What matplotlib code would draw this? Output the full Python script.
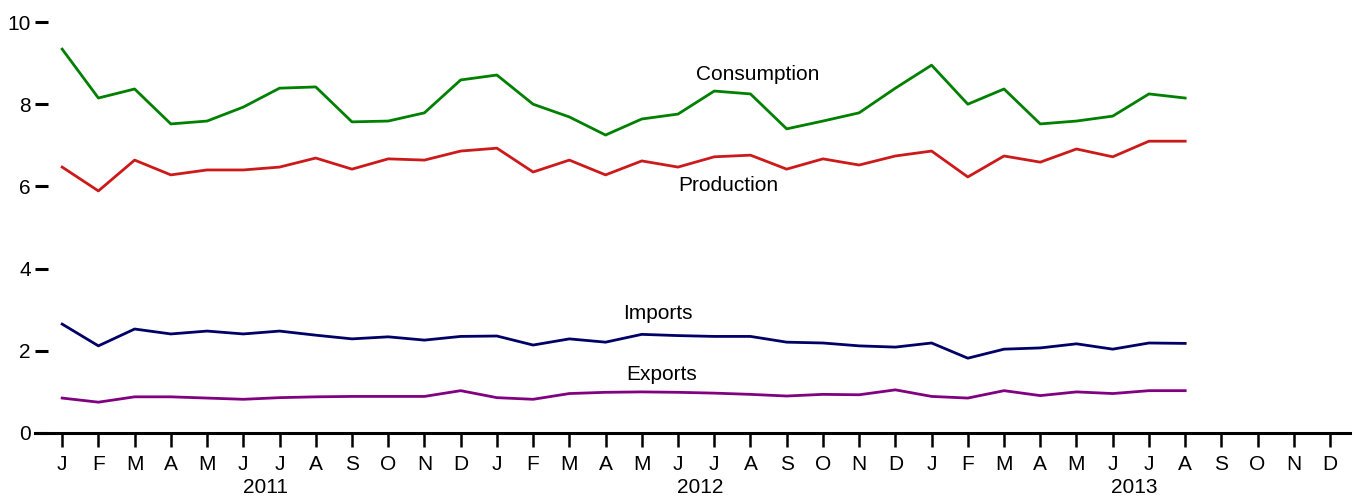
import matplotlib
matplotlib.use("Agg")
import matplotlib.pyplot as plt
import numpy as np

plt.rcParams['font.family'] = ['Liberation Sans', 'DejaVu Sans']

months = ['J', 'F', 'M', 'A', 'M', 'J', 'J', 'A', 'S', 'O', 'N', 'D'] * 3
years = ['2011', '2012', '2013']

consumption = [9.34, 8.15, 8.37, 7.52, 7.59, 7.93, 8.39, 8.42, 7.57, 7.59, 7.79, 8.59,
               8.71, 8.00, 7.69, 7.25, 7.64, 7.76, 8.32, 8.25, 7.40, 7.59, 7.79, 8.39,
               8.95, 8.00, 8.37, 7.52, 7.59, 7.71, 8.25, 8.15]
production = [6.47, 5.89, 6.64, 6.28, 6.40, 6.40, 6.47, 6.69, 6.42, 6.67, 6.64, 6.86,
              6.93, 6.35, 6.64, 6.28, 6.62, 6.47, 6.72, 6.76, 6.42, 6.67, 6.52, 6.74,
              6.86, 6.23, 6.74, 6.59, 6.91, 6.72, 7.10, 7.10]
imports = [2.65, 2.12, 2.53, 2.41, 2.48, 2.41, 2.48, 2.38, 2.29, 2.34, 2.26, 2.35,
           2.36, 2.14, 2.29, 2.21, 2.40, 2.37, 2.35, 2.35, 2.21, 2.19, 2.12, 2.09,
           2.19, 1.82, 2.04, 2.07, 2.17, 2.04, 2.19, 2.18]
exports = [0.85, 0.75, 0.88, 0.88, 0.85, 0.82, 0.86, 0.88, 0.89, 0.89, 0.89, 1.03,
           0.86, 0.82, 0.96, 0.99, 1.00, 0.99, 0.97, 0.94, 0.90, 0.94, 0.93, 1.05,
           0.89, 0.85, 1.03, 0.91, 1.00, 0.96, 1.03, 1.03]

# name, values, colour, label position (x in months, y in data units)
series = [
    ('Consumption', consumption, '#008000', 19.2, 8.72),
    ('Production', production, '#cc1a1a', 18.4, 6.03),
    ('Imports', imports, '#000066', 16.45, 2.9),
    ('Exports', exports, '#800080', 16.55, 1.42),
]

fig = plt.figure(figsize=(13.57, 5.0), dpi=100)
ax = fig.add_axes([35 / 1357, 67 / 500, 1315 / 1357, 411 / 500])

x = np.arange(len(consumption))
for name, vals, col, lx, ly in series:
    ax.plot(x, vals, color=col, lw=2, clip_on=False)
    ax.text(lx, ly, name, ha='center', va='center', fontsize=15, color='black')

ax.set_xlim(-0.75, 35.55)
ax.set_ylim(0, 10)

for s in ['top', 'right', 'left']:
    ax.spines[s].set_visible(False)
ax.spines['bottom'].set_linewidth(2.2)

ax.set_xticks(np.arange(36))
ax.set_xticklabels(months, fontsize=15)
ax.tick_params(axis='x', direction='out', length=10, width=1.8, pad=6)
ax.set_yticks([0, 2, 4, 6, 8, 10])
ax.set_yticklabels(['0', '2', '4', '6', '8', '10'], fontsize=15)
ax.tick_params(axis='y', direction='in', length=9, width=2.2, pad=3)

for i, yr in enumerate(years):
    ax.text(i * 12 + 5.6, -0.11, yr, transform=ax.get_xaxis_transform(),
            ha='center', va='top', fontsize=15)

fig.savefig('out.png', dpi=100)
